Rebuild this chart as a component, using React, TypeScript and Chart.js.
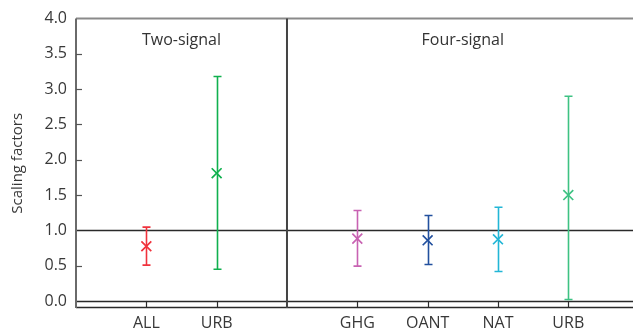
import React, { useEffect, useRef } from "react";
import { Chart, registerables } from "chart.js";

Chart.register(...registerables);

const categories = ["ALL", "URB", "GHG", "OANT", "NAT", "URB"];
const positions = [1, 2, 4, 5, 6, 7];
const bestEstimate = [0.775, 1.81, 0.883, 0.859, 0.873, 1.5];
const lowerBound = [0.507, 0.45, 0.493, 0.517, 0.418, 0.02];
const upperBound = [1.046, 3.18, 1.282, 1.211, 1.328, 2.9];
const colors = ["#f0323c", "#10b04e", "#c862b2", "#22509e", "#22b6d6", "#3ec283"];
const yTicks = [0, 0.5, 1, 1.5, 2, 2.5, 3, 3.5, 4];
const panelLabels = ["Two-signal", "Four-signal"];
const panelLabelX = [1.5, 5.5];
const dividerX = 3;
const referenceLines = [0, 1];

const FONT = "'Open Sans', 'Noto Sans', sans-serif";

const decorPlugin = {
  id: "decor",
  beforeDatasetsDraw(chart: any) {
    const { ctx, chartArea: a, scales } = chart;
    const xs = scales.x;
    const ys = scales.y;
    ctx.save();
    ctx.strokeStyle = "#2a2a2a";
    ctx.lineWidth = 1.3;
    referenceLines.forEach((v) => {
      const py = Math.round(ys.getPixelForValue(v)) + 0.5;
      ctx.beginPath();
      ctx.moveTo(a.left, py);
      ctx.lineTo(a.right, py);
      ctx.stroke();
    });
    ctx.beginPath();
    ctx.moveTo(a.left, a.bottom - 0.5);
    ctx.lineTo(a.right, a.bottom - 0.5);
    ctx.stroke();
    ctx.strokeStyle = "#8a8a8a";
    ctx.lineWidth = 2;
    ctx.beginPath();
    ctx.moveTo(a.left, a.top);
    ctx.lineTo(a.right, a.top);
    ctx.stroke();
    ctx.strokeStyle = "#6a6a6a";
    ctx.beginPath();
    ctx.moveTo(a.left, a.top);
    ctx.lineTo(a.left, a.bottom);
    ctx.stroke();
    ctx.strokeStyle = "#444";
    ctx.lineWidth = 2;
    const dx = xs.getPixelForValue(dividerX);
    ctx.beginPath();
    ctx.moveTo(dx, a.top);
    ctx.lineTo(dx, a.bottom);
    ctx.stroke();
    ctx.strokeStyle = "#555";
    ctx.lineWidth = 1.2;
    yTicks.forEach((v) => {
      if (v === 0 || v === 4 || v === 1) return;
      const py = Math.round(ys.getPixelForValue(v)) + 0.5;
      ctx.beginPath();
      ctx.moveTo(a.left, py);
      ctx.lineTo(a.left + 6, py);
      ctx.stroke();
    });
    ctx.strokeStyle = "#2a2a2a";
    const zeroY = ys.getPixelForValue(0);
    positions.forEach((p) => {
      const px = Math.round(xs.getPixelForValue(p)) + 0.5;
      ctx.beginPath();
      ctx.moveTo(px, a.bottom);
      ctx.lineTo(px, zeroY);
      ctx.stroke();
    });
    ctx.fillStyle = "#333";
    ctx.font = `16px ${FONT}`;
    ctx.textAlign = "center";
    ctx.textBaseline = "middle";
    panelLabels.forEach((t, i) => {
      ctx.fillText(t, xs.getPixelForValue(panelLabelX[i]), a.top + 22);
    });
    positions.forEach((p, i) => {
      const px = Math.round(xs.getPixelForValue(p)) + 0.5;
      const yl = ys.getPixelForValue(lowerBound[i]);
      const yu = ys.getPixelForValue(upperBound[i]);
      ctx.strokeStyle = colors[i];
      ctx.lineWidth = 1.6;
      ctx.beginPath();
      ctx.moveTo(px, yl);
      ctx.lineTo(px, yu);
      ctx.moveTo(px - 4, yl);
      ctx.lineTo(px + 4, yl);
      ctx.moveTo(px - 4, yu);
      ctx.lineTo(px + 4, yu);
      ctx.stroke();
    });
    ctx.restore();
  },
};

export default function App() {
  const ref = useRef<HTMLCanvasElement | null>(null);
  useEffect(() => {
    if (!ref.current) return;
    const chart = new Chart(ref.current, {
      type: "scatter",
      data: {
        datasets: [
          {
            data: positions.map((p, i) => ({ x: p, y: bestEstimate[i] })),
            pointStyle: "crossRot",
            pointRadius: 7,
            pointBorderWidth: 1.7,
            pointBorderColor: colors,
            pointBackgroundColor: colors,
          } as any,
        ],
      },
      options: {
        animation: false,
        responsive: true,
        maintainAspectRatio: false,
        layout: { autoPadding: false, padding: { top: 17, right: 0, left: 0, bottom: 0 } },
        plugins: { legend: { display: false }, tooltip: { enabled: false } },
        scales: {
          x: {
            type: "linear",
            min: 0,
            max: 7.92,
            border: { display: false },
            grid: { display: false, drawTicks: false },
            afterBuildTicks: (s: any) => {
              s.ticks = positions.map((v) => ({ value: v }));
            },
            afterFit: (s: any) => {
              s.height = 27;
            },
            ticks: {
              autoSkip: false,
              maxRotation: 0,
              padding: 6,
              color: "#383838",
              font: { family: FONT, size: 16 },
              callback: (v: any) => {
                const i = positions.indexOf(Number(v));
                return i >= 0 ? categories[i] : "";
              },
            },
          },
          y: {
            min: -0.1,
            max: 4.0,
            border: { display: false },
            grid: { display: false, drawTicks: false },
            afterBuildTicks: (s: any) => {
              s.ticks = yTicks.map((v) => ({ value: v }));
            },
            afterFit: (s: any) => {
              s.width = 76;
            },
            title: {
              display: true,
              text: "Scaling factors",
              color: "#383838",
              font: { family: FONT, size: 15 },
              padding: { top: 9, bottom: 0 },
            },
            ticks: {
              padding: 9,
              color: "#383838",
              font: { family: FONT, size: 16 },
              callback: (v: any) => Number(v).toFixed(1),
            },
          },
        },
      },
      plugins: [decorPlugin],
    });
    return () => chart.destroy();
  }, []);
  return (
    <div style={{ position: "fixed", left: 0, top: 0, width: 633, height: 335, background: "#fff" }}>
      <canvas ref={ref} />
    </div>
  );
}
